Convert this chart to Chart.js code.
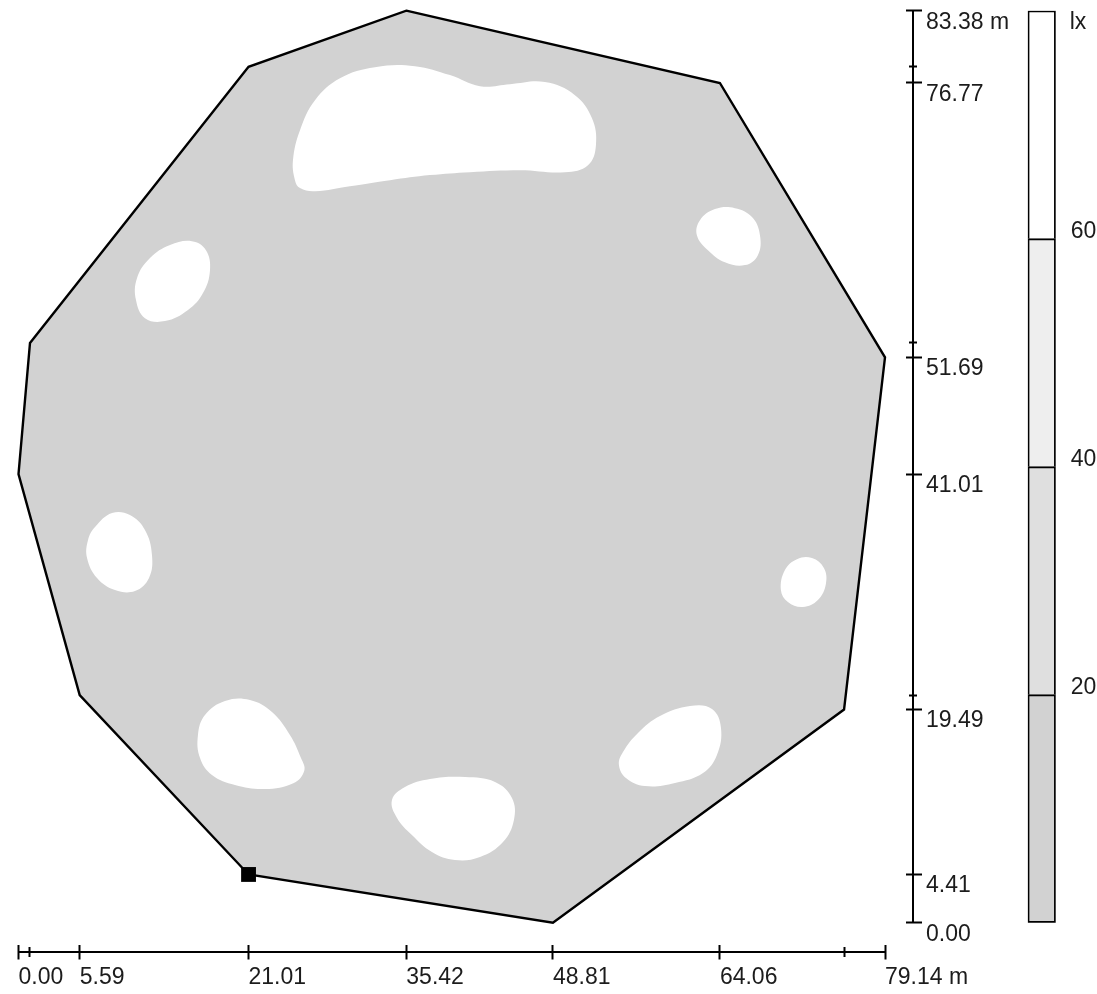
<!DOCTYPE html>
<html>
<head>
<meta charset="utf-8">
<title>Isolux plan</title>
<script src="https://cdn.jsdelivr.net/npm/chart.js@4.4.1/dist/chart.umd.min.js"></script>
<style>
  html, body { margin: 0; padding: 0; background: #ffffff; }
  #wrap { position: relative; width: 1097px; height: 994px; overflow: hidden; }
  #plan { position: absolute; left: 0; top: 0; }
  #legendBar { position: absolute; left: 990px; top: 0; }
</style>
</head>
<body>
<div id="wrap">
  <canvas id="plan" width="1097" height="994"></canvas>
  <canvas id="legendBar" width="107" height="994"></canvas>
</div>
<script>
// ---- axis ticks (metres) ----
const xTickValues = [0.00, 5.59, 21.01, 35.42, 48.81, 64.06, 79.14];
const xTickLabels = ['0.00', '5.59', '21.01', '35.42', '48.81', '64.06', '79.14 m'];
const xMinorTicks = [1.05, 75.40];
const yTickValues = [0.00, 4.41, 19.49, 41.01, 51.69, 76.77, 83.38];
const yTickLabels = ['0.00', '4.41', '19.49', '41.01', '51.69', '76.77', '83.38 m'];
const yMinorTicks = [20.80, 53.00, 78.25];

// ---- room outline, vertices [x, y] in metres ----
const outline = [
  [35.42, 83.38], [64.06, 76.77], [79.14, 51.69], [75.40, 19.49], [48.81, 0.00],
  [21.01, 4.41], [5.59, 20.80], [0.00, 41.01], [1.05, 53.00], [21.01, 78.25]
];
// reference point
const markerPoint = [[21.01, 4.41]];

// ---- zones above 60 lx, boundary points [x, y] in metres ----
const zoneNorth = [
  [25.25, 67.89], [25.07, 69.72], [25.71, 72.46], [27.08, 75.20], [29.36, 77.21],
  [32.56, 78.22], [36.21, 78.31], [39.41, 77.49], [42.15, 76.48], [44.89, 76.66],
  [48.08, 76.85], [50.82, 75.66], [52.37, 73.56], [52.74, 71.09], [52.01, 69.26],
  [49.91, 68.62], [45.80, 68.80], [41.23, 68.62], [37.58, 68.35], [33.93, 67.89],
  [30.27, 67.34], [27.08, 66.88], [25.71, 67.16]
];
const zoneNorthWest = [
  [12.01, 60.76], [13.84, 61.95], [15.84, 62.31], [17.12, 61.49], [17.49, 59.66],
  [16.85, 57.56], [15.48, 56.01], [13.38, 55.00], [11.55, 55.27], [10.73, 56.92],
  [10.82, 58.93]
];
const zoneNorthEast = [
  [62.24, 64.23], [63.61, 65.24], [65.43, 65.33], [66.99, 64.51], [67.72, 62.86],
  [67.53, 61.03], [66.35, 60.12], [64.52, 60.39], [62.97, 61.49], [61.96, 62.86]
];
const zoneWest = [
  [6.99, 36.17], [8.54, 37.45], [10.18, 37.27], [11.55, 35.90], [12.19, 33.61],
  [11.92, 31.51], [10.64, 30.32], [8.81, 30.41], [7.17, 31.51], [6.26, 33.34],
  [6.35, 34.98]
];
const zoneEast = [
  [70.00, 32.24], [71.10, 33.24], [72.47, 33.34], [73.56, 32.42], [73.74, 30.96],
  [73.01, 29.50], [71.64, 28.86], [70.27, 29.31], [69.63, 30.41]
];
const zoneSouthWest = [
  [17.03, 18.99], [18.86, 20.27], [21.14, 20.36], [23.15, 19.26], [24.79, 17.16],
  [25.80, 15.05], [26.10, 13.90], [25.10, 12.75], [22.51, 12.22], [19.77, 12.59],
  [17.67, 13.50], [16.58, 15.05], [16.39, 17.16]
];
const zoneSouth = [
  [34.11, 11.21], [35.30, 12.40], [37.58, 13.13], [40.78, 13.31], [43.52, 12.86],
  [45.07, 11.40], [45.25, 9.39], [44.25, 7.38], [42.15, 6.01], [39.86, 5.73],
  [37.76, 6.46], [35.93, 8.01], [34.57, 9.57]
];
const zoneSouthEast = [
  [55.21, 15.60], [56.58, 17.34], [58.59, 18.89], [61.33, 19.81], [63.34, 19.54],
  [64.16, 17.80], [63.79, 15.33], [62.52, 13.68], [59.96, 12.77], [57.22, 12.49],
  [55.48, 13.23], [54.84, 14.42]
];

// ---- illuminance scale (lx) ----
const bandEdges = [0, 20, 40, 60, 80];
const bandLabels = ['20', '40', '60'];
const bandUnit = 'lx';

// ---- styling ----
const INK = '#000000';
const TEXT = '#1c1c1c';
const FLOOR = '#d2d2d2';
const bandColors = ['#d2d2d2', '#dfdfdf', '#eeeeee', '#ffffff'];
const FONT = { family: "'Liberation Sans', Arial, sans-serif", size: 23 };

const X_MIN = xTickValues[0], X_MAX = xTickValues[xTickValues.length - 1];
const Y_MIN = yTickValues[0], Y_MAX = yTickValues[yTickValues.length - 1];

const toXY = arr => arr.map(([x, y]) => ({ x, y }));

function fixedTicks(values) {
  return scale => { scale.ticks = values.map(v => ({ value: v })); };
}
// axes take no room in the layout; they are placed after layout
function zeroFit(scale) {
  if (scale.isHorizontal()) scale.height = 0; else scale.width = 0;
  scale.paddingLeft = scale.paddingRight = scale.paddingTop = scale.paddingBottom = 0;
}

// moves axes away from the plot edge by a fixed pixel gap and gives
// their labels room up to the canvas edge
function axisPlacement(offsets) {
  return {
    id: 'axisPlacement',
    afterLayout(chart) {
      const a = chart.chartArea;
      for (const id in offsets) {
        const s = chart.scales[id];
        if (!s) continue;
        const o = offsets[id];
        if (s.isHorizontal()) {
          s.top = a.bottom + (o.across || 0);
          s.bottom = chart.height;
        } else {
          s.left = a.right + (o.across || 0);
          s.right = chart.width;
          if (o.along) {
            s.top = a.top + o.along;
            s.bottom = a.bottom + o.along;
            s.configure();
          }
        }
      }
    }
  };
}

// draws flagged line datasets as closed smooth outlines
const closedOutlines = {
  id: 'closedOutlines',
  afterDatasetsUpdate(chart) {
    chart.data.datasets.forEach((ds, i) => {
      if (!ds.closed) return;
      const line = chart.getDatasetMeta(i).dataset;
      if (!line) return;
      line._loop = true;
      line._fullLoop = true;
      line._pointsUpdated = false;
      line._segments = undefined;
      line._path = undefined;
    });
  }
};

function tickAxis(position, min, max, values, length, labels) {
  const horizontal = position === 'bottom';
  return {
    type: 'linear', position, min, max, bounds: 'data',
    afterBuildTicks: fixedTicks(values),
    afterFit: zeroFit,
    grid: { display: true, drawOnChartArea: false, drawTicks: true, tickLength: length, tickWidth: 2, tickColor: INK },
    border: { display: false },
    ticks: labels ? {
      display: true, autoSkip: false, maxRotation: 0, minRotation: 0,
      align: 'start', padding: horizontal ? 4 : 4, color: TEXT, font: FONT,
      callback: (v, i) => labels[i]
    } : { display: false, autoSkip: false }
  };
}
function lineAxis(position, min, max) {
  return {
    type: 'linear', position, min, max, bounds: 'data',
    afterFit: zeroFit,
    grid: { display: true, drawOnChartArea: false, drawTicks: false },
    border: { display: true, width: 2, color: INK },
    ticks: { display: false }
  };
}

const zones = [zoneNorth, zoneNorthWest, zoneNorthEast, zoneWest, zoneEast, zoneSouthWest, zoneSouth, zoneSouthEast];

const planDatasets = [
  {
    data: toXY(outline), closed: true, order: 2,
    fill: 'shape', backgroundColor: FLOOR, borderColor: INK, borderWidth: 2.4,
    borderJoinStyle: 'miter', tension: 0, pointRadius: 0, spanGaps: true, clip: false
  },
  ...zones.map(z => ({
    data: toXY(z), closed: true, order: 1,
    fill: 'shape', backgroundColor: '#ffffff', borderWidth: 0,
    tension: 0.4, pointRadius: 0, spanGaps: true
  })),
  {
    data: toXY(markerPoint), order: 0, showLine: false,
    pointStyle: 'rect', pointRadius: 10.5, pointBorderWidth: 0,
    pointBackgroundColor: INK, clip: false
  }
];

new Chart(document.getElementById('plan'), {
  type: 'line',
  data: { datasets: planDatasets },
  options: {
    responsive: false, animation: false, devicePixelRatio: 1,
    layout: { padding: { left: 18.5, top: 10.7, right: 212, bottom: 71.3 } },
    plugins: { legend: { display: false }, tooltip: { enabled: false } },
    elements: { point: { hoverRadius: 0 } },
    scales: {
      x: tickAxis('bottom', X_MIN, X_MAX, xTickValues, 15, xTickLabels),
      xMinor: tickAxis('bottom', X_MIN, X_MAX, xMinorTicks, 10, null),
      xLine: lineAxis('bottom', X_MIN, X_MAX),
      y: tickAxis('right', Y_MIN, Y_MAX, yTickValues, 16, yTickLabels),
      yMinor: tickAxis('right', Y_MIN, Y_MAX, yMinorTicks, 8, null),
      yLine: lineAxis('right', Y_MIN, Y_MAX)
    }
  },
  plugins: [closedOutlines, axisPlacement({
    x: { across: 21.8 }, xMinor: { across: 24.3 }, xLine: { across: 29.3 },
    y: { across: 21 }, yMinor: { across: 24 }, yLine: { across: 28 }
  })]
});

// ---- illuminance legend bar ----
const bandDatasets = bandEdges.slice(0, -1).map((lo, i) => ({
  data: [[lo, bandEdges[i + 1]]],
  backgroundColor: bandColors[i],
  borderColor: INK,
  borderWidth: i === 0 ? { top: 2, right: 2, bottom: 2, left: 2 } : { top: 2, right: 2, bottom: 0, left: 2 },
  borderSkipped: false,
  barPercentage: 1, categoryPercentage: 1, grouped: false
}));

const B_MIN = bandEdges[0], B_MAX = bandEdges[bandEdges.length - 1];

new Chart(document.getElementById('legendBar'), {
  type: 'bar',
  data: { labels: [''], datasets: bandDatasets },
  options: {
    responsive: false, animation: false, devicePixelRatio: 1,
    layout: { padding: { left: 37.7, top: 10.7, right: 41.3, bottom: 71.3 } },
    plugins: { legend: { display: false }, tooltip: { enabled: false } },
    scales: {
      x: { display: false },
      y: { display: false, min: B_MIN, max: B_MAX },
      yBand: {
        type: 'linear', position: 'right', min: B_MIN, max: B_MAX, bounds: 'data',
        afterBuildTicks: fixedTicks(bandEdges.slice(1, -1)), afterFit: zeroFit,
        grid: { display: true, drawOnChartArea: false, drawTicks: false },
        border: { display: false },
        ticks: { autoSkip: false, align: 'end', padding: 15, color: TEXT, font: FONT, callback: (v, i) => bandLabels[i] }
      },
      yUnit: {
        type: 'linear', position: 'right', min: B_MIN, max: B_MAX, bounds: 'data',
        afterBuildTicks: fixedTicks([B_MAX]), afterFit: zeroFit,
        grid: { display: true, drawOnChartArea: false, drawTicks: false },
        border: { display: false },
        ticks: { autoSkip: false, align: 'start', padding: 14, color: TEXT, font: FONT, callback: () => bandUnit }
      }
    }
  },
  plugins: [axisPlacement({ yBand: { along: 4.9 }, yUnit: {} })]
});
</script>
</body>
</html>
